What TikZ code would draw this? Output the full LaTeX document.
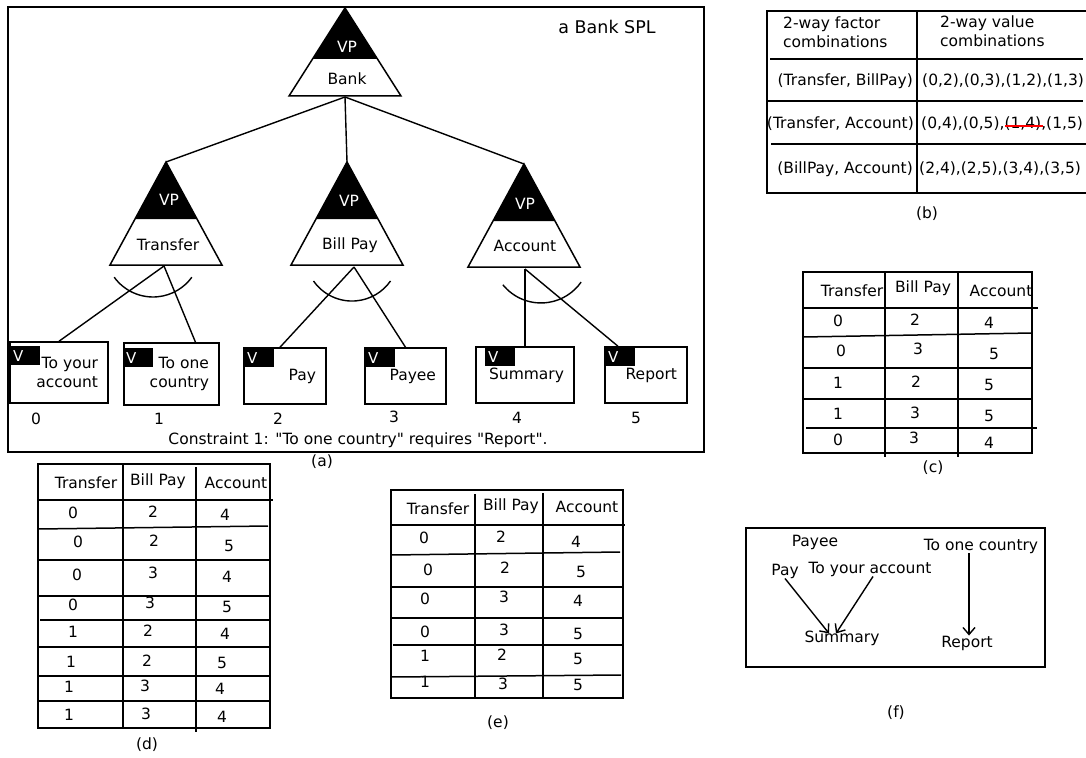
\documentclass[tikz,border=0pt]{standalone}
\usepackage{fontspec}
\setmainfont{DejaVu Sans}
\usetikzlibrary{arrows, arrows.meta}

\tikzstyle{frame} = [line width=1.6pt]
\tikzstyle{tri} = [line width=1.5pt, line join=miter]
\tikzstyle{vp} = [text=white, inner sep=0pt, font=\fontsize{15.5}{18}\selectfont]
\tikzstyle{lbl} = [inner sep=0pt, font=\fontsize{15.5}{19}\selectfont]
\tikzstyle{leaf} = [rectangle, draw, line width=1.5pt, align=right, inner xsep=10pt, inner ysep=0pt, font=\fontsize{15.5}{19}\selectfont]
\tikzstyle{vtag} = [anchor=north west, fill=black, text=white, minimum height=19pt, inner xsep=3pt, inner ysep=0pt, text width=24pt, align=left, font=\fontsize{15}{16}\selectfont]
\tikzstyle{edge} = [line width=1.4pt]
\tikzstyle{grid} = [line width=1.5pt]
\tikzstyle{cell} = [inner sep=0pt, font=\fontsize{15.5}{19}\selectfont]
\tikzstyle{arrow} = [line width=1.4pt,->,>={Straight Barb[length=7pt,width=12pt]}]

\begin{document}
\begin{tikzpicture}[x=1pt, y=-1pt]
\useasboundingbox (0,0) rectangle (1086,757);

%% (a) FEATURE MODEL

\draw [frame] (8,7) rectangle (704,452);
\node (title) [lbl, font=\fontsize{17.5}{20}\selectfont] at (607,27) {a Bank SPL};

% variation points
\fill (345,8) -- (377.5,59) -- (312.5,59) -- cycle;
\draw [tri] (345,8) coordinate (bank-top) -- (401,96) -- (289,96) -- cycle;
\node (bank-vp) [vp] at (347,47) {VP};
\node (bank) [lbl] at (347,79) {Bank};
\coordinate (bank-bot) at (345,97);

\fill (166,162) -- (197,219) -- (135,219) -- cycle;
\draw [tri] (166,162) coordinate (tr-top) -- (222,265) -- (110,265) -- cycle;
\node (tr-vp) [vp] at (169,200) {VP};
\node (tr) [lbl] at (168,245) {Transfer};
\coordinate (tr-bot) at (164,266);

\fill (347,162) -- (378,219) -- (316,219) -- cycle;
\draw [tri] (347,162) coordinate (bp-top) -- (403,265) -- (291,265) -- cycle;
\node (bp-vp) [vp] at (349,201) {VP};
\node (bp) [lbl] at (350,245) {Bill Pay};
\coordinate (bp-bot) at (354,267);

\fill (524,164) -- (555,221) -- (493,221) -- cycle;
\draw [tri] (524,164) coordinate (ac-top) -- (580,267) -- (468,267) -- cycle;
\node (ac-vp) [vp] at (525,204) {VP};
\node (ac) [lbl] at (525,246) {Account};
\coordinate (ac-bot) at (525,269);

% variants
\node (box0) [leaf, text width=78pt, minimum height=61pt] at (59,372.5) {To your\\account};
\node (box1) [leaf, text width=75pt, minimum height=62pt] at (171.5,374) {To one\\country};
\node (box2) [leaf, text width=62pt, minimum height=56pt] at (285,376) {Pay};
\node (box3) [leaf, text width=61pt, minimum height=56pt] at (405.5,376) {Payee};
\node (box4) [leaf, text width=78pt, minimum height=56pt] at (525,375) {Summary};
\node (box5) [leaf, text width=62pt, minimum height=56pt] at (646,375) {Report};

\node (v0) [vtag] at (10,346) {V};
\node (v1) [vtag] at (123,348) {V};
\node (v2) [vtag] at (244,348) {V};
\node (v3) [vtag] at (365,348) {V};
\node (v4) [vtag] at (485,347) {V};
\node (v5) [vtag] at (605,347) {V};

\node (n0) [lbl] at (36,419) {0};
\node (n1) [lbl] at (159,419) {1};
\node (n2) [lbl] at (278,419) {2};
\node (n3) [lbl] at (394,417) {3};
\node (n4) [lbl] at (517,418) {4};
\node (n5) [lbl] at (636,418) {5};
\node (cons) [lbl] at (358,440) {Constraint 1: \textquotedbl To one country\textquotedbl\ requires \textquotedbl Report\textquotedbl .};
\node (cap-a) [lbl] at (322,462) {(a)};

% edges
\draw [edge] (bank-bot) -- (tr-top);
\draw [edge] (bank-bot) -- (bp-top);
\draw [edge] (bank-bot) -- (ac-top);
\draw [edge] (tr-bot) -- (box0.north);
\draw [edge] (tr-bot) -- ([xshift=24pt]box1.north);
\draw [edge] (bp-bot) -- ([xshift=-5pt]box2.north);
\draw [edge] (bp-bot) -- (box3.north);
\draw [edge] (ac-bot) -- (box4.north);
\draw [edge] (ac-bot) -- ([xshift=-28pt]box5.north);

% alternative arcs
\draw [edge] (114.2,277.2) arc [start angle=144, end angle=36, radius=48];
\draw [edge] (313.5,281) arc [start angle=145, end angle=35, radius=47];
\draw [edge] (502.9,284.8) arc [start angle=141, end angle=35, radius=49];

%% (b) PAIRS

\draw [grid] (1086,11) -- (767,11) -- (767,193) -- (1086,193);
\draw [grid] (917,11) -- (917,194);
\draw [grid] (770,59) -- (1083,59);
\draw [grid] (767,101) -- (1083,101);
\draw [grid] (771,144) -- (1086,144);
\node (b-h1) [lbl, align=left, anchor=west] at (783,32) {2-way factor\\combinations};
\node (b-h2) [lbl, align=left, anchor=west] at (940,31) {2-way value\\combinations};
\node (b-f1) [lbl, anchor=east] at (913,81) {(Transfer, BillPay)};
\node (b-f2) [lbl, anchor=east] at (914,124) {(Transfer, Account)};
\node (b-f3) [lbl, anchor=east] at (913,169) {(BillPay, Account)};
\node (b-v1) [lbl, anchor=west] at (922,81) {(0,2),(0,3),(1,2),(1,3)};
\node (b-v2) [lbl, anchor=west] at (921,124) {(0,4),(0,5),(1,4),(1,5)};
\node (b-v3) [lbl, anchor=west] at (919,169) {(2,4),(2,5),(3,4),(3,5)};
\draw [red, line width=1.5pt] (1005,126) -- (1043,126);
\node (cap-b) [lbl] at (927,214) {(b)};

%% (c) TABLE

\draw [grid] (803,272) rectangle (1032,453);
\draw [grid] (803,308) -- (1038,308);
\draw [grid] (885,272) -- (885,457);
\draw [grid] (958,272) -- (958,457);
\draw [grid] (803,337) -- (1032,333);
\draw [grid] (803,368) -- (1032,368);
\draw [grid] (803,399) -- (1032,399);
\draw [grid] (806,428) -- (1037,428);
\node (c-t) [lbl] at (852,291) {Transfer};
\node (c-b) [lbl] at (923,288) {Bill Pay};
\node (c-a) [lbl] at (1001,291) {Account};
\foreach \v/\x/\y [count=\i] in {0/838/321, 2/915/320, 4/989/323,
    0/841/351, 3/918/349, 5/994/354,
    1/838/383, 2/916/382, 5/989/385,
    1/838/414, 3/915/413, 5/989/416,
    0/838/440, 3/914/438, 4/989/443}
  \node (c-\i) [cell] at (\x,\y) {\v};
\node (cap-c) [lbl] at (933,468) {(c)};

%% (d) TABLE

\draw [grid] (38,464) rectangle (270,728);
\draw [grid] (38,500) -- (273,500);
\draw [grid] (123,464) -- (123,728);
\draw [grid] (196,467) -- (196,732);
\draw [grid] (38,529) -- (268,526);
\draw [grid] (38,560) -- (270,560);
\draw [grid] (38,596) -- (270,596);
\draw [grid] (40,620) -- (270,620);
\draw [grid] (38,647) -- (270,647);
\draw [grid] (38,676) -- (270,676);
\draw [grid] (38,701) -- (270,701);
\node (d-t) [lbl] at (86,483) {Transfer};
\node (d-b) [lbl] at (158,481) {Bill Pay};
\node (d-a) [lbl] at (236,483) {Account};
\foreach \v/\x/\y [count=\i] in {0/73/513, 2/153/512, 4/225/515,
    0/78/542, 2/154/541, 5/229/546,
    0/77/575, 3/153/573, 4/227/577,
    0/73/605, 3/150/603, 5/227/607,
    1/73/632, 2/148/631, 4/225/634,
    1/71/662, 2/147/661, 5/222/663,
    1/69/687, 3/145/686, 4/220/689,
    1/69/715, 3/146/714, 4/222/717}
  \node (d-\i) [cell] at (\x,\y) {\v};
\node (cap-d) [lbl] at (147,745) {(d)};

%% (e) TABLE

\draw [grid] (391,490) rectangle (623,698);
\draw [grid] (391,525) -- (625,525);
\draw [grid] (475,494) -- (475,698);
\draw [grid] (543,493) -- (543,698);
\draw [grid] (391,555) -- (620,552);
\draw [grid] (391,587) -- (623,587);
\draw [grid] (391,618) -- (623,618);
\draw [grid] (393,645) -- (623,645);
\draw [grid] (391,677) -- (621,675);
\node (e-t) [lbl] at (438,509) {Transfer};
\node (e-b) [lbl] at (511,506) {Bill Pay};
\node (e-a) [lbl] at (587,507) {Account};
\foreach \v/\x/\y [count=\i] in {0/424/538, 2/501/537, 4/576/542,
    0/428/570, 2/505/568, 5/581/572,
    0/425/599, 3/504/597, 4/578/601,
    0/425/632, 3/504/630, 5/578/634,
    1/425/656, 2/502/655, 5/578/659,
    1/425/682, 3/503/684, 5/578/685}
  \node (e-\i) [cell] at (\x,\y) {\v};
\node (cap-e) [lbl] at (498,723) {(e)};

%% (f) DEPENDENCIES

\draw [frame] (746,528) rectangle (1045,667);
\node (fpayee) [lbl] at (815,542) {Payee};
\node (fcountry) [lbl] at (981,546) {To one country};
\node (fpay) [lbl] at (785,571) {Pay};
\node (faccount) [lbl] at (870,569) {To your account};
\node (fsum) [lbl] at (842,638) {Summary};
\node (freport) [lbl] at (967,643) {Report};
\draw [arrow] (fpay.south) -- ([xshift=-13pt,yshift=-3pt]fsum.north);
\draw [arrow] ([xshift=3pt]faccount.south) -- ([xshift=-6pt,yshift=-3pt]fsum.north);
\draw [arrow] ([xshift=-12pt]fcountry.south) -- ([xshift=2pt]freport.north);
\node (cap-f) [lbl] at (896,713) {(f)};
\end{tikzpicture}
\end{document}
